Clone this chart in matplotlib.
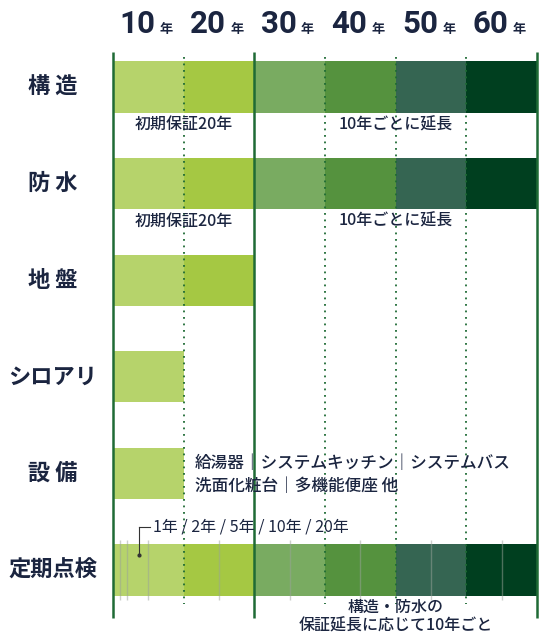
"""Warranty / inspection period chart (0-60 years)."""

import matplotlib
matplotlib.use('Agg')
import matplotlib.pyplot as plt

plt.rcParams['font.family'] = ['Noto Sans CJK JP', 'DejaVu Sans']

# --- data ---
rows = ['構 造', '防 水', '地 盤', 'シロアリ', '設 備', '定期点検']
cover_years = [60, 60, 20, 10, 10, 60]          # bar length per row
decades = [0, 10, 20, 30, 40, 50]
decade_colors = ['#b6d36b', '#a5c843', '#79ab61', '#55923e', '#356552', '#003f1f']
header_nums = ['10', '20', '30', '40', '50', '60']
solid_years = [0, 20, 60]
dotted_years = [10, 30, 40, 50]
inspect_years = [1, 2, 5, 15, 25, 35, 45, 55]

notes_first = '初期保証20年'
notes_ext = '10年ごとに延長'
setsubi_lines = ['給湯器｜システムキッチン｜システムバス', '洗面化粧台｜多機能便座 他']
inspect_label = '1年 / 2年 / 5年 / 10年 / 20年'
inspect_note = ['構造・防水の', '保証延長に応じて10年ごと']

TEXT = '#1b2540'
LINE = '#1f6b35'

# --- layout (pixel mapping of a 540x640 canvas) ---
PX_PER_YEAR = 424 / 60
X0 = 113
ROW_PX = 96.6
Y0 = 87

fig = plt.figure(figsize=(5.4, 6.4), dpi=100)
ax = fig.add_axes([0, 0, 1, 1])
ax.set_xlim(-X0 / PX_PER_YEAR, (540 - X0) / PX_PER_YEAR)
ax.set_ylim((640 - Y0) / ROW_PX, -Y0 / ROW_PX)
ax.axis('off')

bar_h = 0.53
for i, end in enumerate(cover_years):
    for d, c in zip(decades, decade_colors):
        if d + 10 <= end:
            ax.barh(i, 10, left=d, height=bar_h, color=c, edgecolor='none', zorder=1)

# thin inspection ticks on the last row
last = len(rows) - 1
ax.vlines(inspect_years, last - 0.31, last + 0.31, colors='#9aa39a', lw=1, alpha=0.5, zorder=2)

# grid lines
ax.vlines(solid_years, -0.36, 5.50, colors=LINE, lw=1.8, zorder=3)
ax.vlines(dotted_years, -0.31, 5.35, colors=LINE, lw=1.3, linestyles=(0, (1, 2.6)), zorder=3)

# header
for d, num in zip(decades, header_nums):
    cx = d + 5
    ax.text(cx + 1.0, -0.56, num, ha='right', va='baseline', fontsize=22.5,
            fontweight='bold', family=['Roboto', 'DejaVu Sans'], color=TEXT)
    ax.text(cx + 1.6, -0.56, '年', ha='left', va='baseline', fontsize=9.5,
            fontweight='bold', color=TEXT)

# row labels
for i, name in enumerate(rows):
    ax.text(-8.5, i, name, ha='center', va='center', fontsize=16, fontweight='bold', color=TEXT)

# notes under 構造 / 防水
for i in (0, 1):
    ax.text(10, i + 0.39, notes_first, ha='center', va='center', fontsize=11.5,
            fontweight='medium', color=TEXT)
    ax.text(40, i + 0.39, notes_ext, ha='center', va='center', fontsize=11.5,
            fontweight='medium', color=TEXT)

# 設備 notes
for k, line in enumerate(setsubi_lines):
    ax.text(11.6, 4 - 0.11 + 0.24 * k, line, ha='left', va='center', fontsize=12,
            fontweight='medium', color=TEXT)

# inspection label with leader
bx = 3.7
ax.plot([bx, bx + 1.6], [last - 0.445, last - 0.445], color='#333333', lw=0.8, zorder=4)
ax.plot([bx, bx], [last - 0.445, last - 0.16], color='#333333', lw=0.8, zorder=4)
ax.plot([bx], [last - 0.16], 'o', ms=2, color='#333333', zorder=4)
ax.text(bx + 1.9, last - 0.445, inspect_label, ha='left', va='center', fontsize=11.5, color=TEXT)

for k, line in enumerate(inspect_note):
    ax.text(40, last + 0.385 + 0.2 * k, line, ha='center', va='center', fontsize=11.5,
            fontweight='medium', color=TEXT)

fig.savefig('out.png', dpi=100)
